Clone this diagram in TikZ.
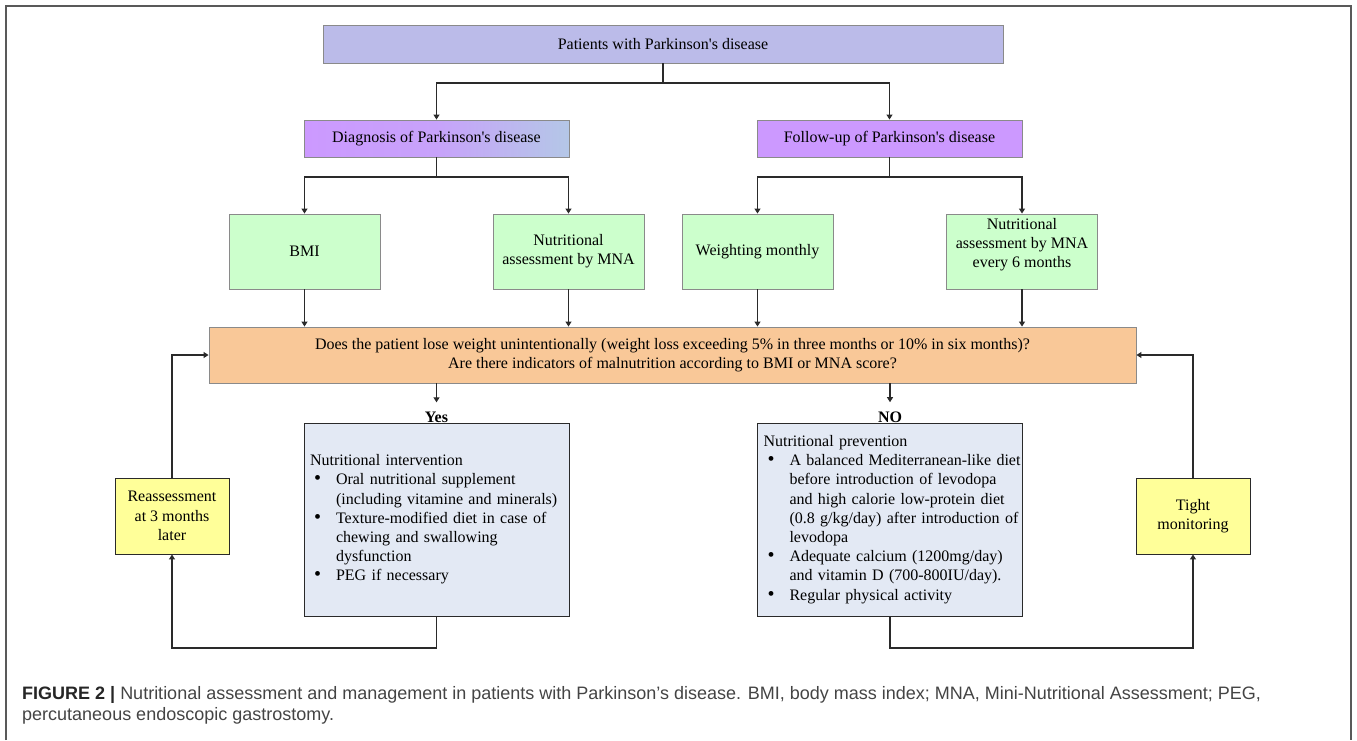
\documentclass[tikz,border=0pt]{standalone}
\usepackage{fontspec}
\setmainfont{Liberation Serif}
\newfontfamily\capfont{Liberation Sans}
\usetikzlibrary{arrows.meta}

\definecolor{toplav}{HTML}{BBBBE9}
\definecolor{diagvio}{HTML}{CC99FF}
\definecolor{diagblu}{HTML}{B4C7E7}
\definecolor{mint}{HTML}{CCFFCC}
\definecolor{peach}{HTML}{F9C898}
\definecolor{paleblue}{HTML}{E3E9F4}
\definecolor{paleyel}{HTML}{FFFF99}
\definecolor{edgegray}{HTML}{8A8A8A}
\definecolor{linedark}{HTML}{2A2A2A}
\definecolor{capgray}{HTML}{444444}

\newcommand{\pd}{Parkinson\textquotesingle s disease}
\newcommand{\bitem}[1]{\par\noindent\hangindent=26pt\hangafter=1\makebox[26pt][l]{\hspace{4pt}\scalebox{1.25}{\textbullet}}#1}

\begin{document}
\begin{tikzpicture}
[
    x=1pt, y=-1pt,
    every node/.style={font=\fontsize{16}{19.2}\selectfont, inner sep=0pt},
    softbox/.style={draw=edgegray, line width=0.9pt, align=center},
    hardbox/.style={draw=linedark, line width=0.9pt},
    listbox/.style={hardbox, fill=paleblue, minimum width=265, minimum height=193, text width=263},
    arr/.style={draw=linedark, line width=1.1pt, -{Triangle[length=5pt,width=6pt]}},
    link/.style={draw=linedark, line width=1.1pt},
]
\useasboundingbox (0,0) rectangle (1357,740);
% outer frame
\draw[draw=black!65, line width=1.4pt] (6,740) -- (6,6) -- (1351,6) -- (1351,740);

\node[softbox, fill=toplav, minimum width=680, minimum height=38] (patients) at (663,44)
{Patients with \pd};
\node[softbox, left color=diagvio, right color=diagblu, middle color=diagvio!80!diagblu,
    minimum width=265, minimum height=37] (diagnosis) at (436.5,138.5)
{Diagnosis of \pd};
\node[softbox, fill=diagvio, minimum width=265, minimum height=37] (followup) at (889.5,138.5)
{Follow-up of \pd};

\node[softbox, fill=mint, minimum width=151, minimum height=75] (bmi) at (304.5,251.5) {BMI};
\node[softbox, fill=mint, minimum width=151, minimum height=75] (mna) at (568.5,251.5)
{Nutritional\\assessment by MNA};
\node[softbox, fill=mint, minimum width=151, minimum height=75] (weighting) at (757.5,251.5)
{Weighting monthly};
\node[softbox, fill=mint, minimum width=151, minimum height=75] (mnasix) at (1022,251.5)
{Nutritional\\assessment by MNA\\every 6 months\\[-2pt]\mbox{}};

\node[softbox, fill=peach, minimum width=927, minimum height=56] (question) at (672.5,355)
{Does the patient lose weight unintentionally (weight loss exceeding 5\% in three months or 10\% in six months)?\\
Are there indicators of malnutrition according to BMI or MNA score?};

\node[font=\fontsize{16}{19.2}\selectfont\bfseries, anchor=base] (yes) at (436.5,422) {Yes};
\node[font=\fontsize{16}{19.2}\selectfont\bfseries, anchor=base] (no) at (890,422) {NO};

\node[listbox] (intervention) at (436.5,519.5)
{\leftskip=5pt\noindent Nutritional intervention
\bitem{Oral nutritional supplement\newline(including vitamine and minerals)}
\bitem{Texture-modified diet in case of\newline chewing and swallowing\newline dysfunction}
\bitem{PEG if necessary}\par};
\node[listbox] (prevention) at (890,519.5)
{\leftskip=5pt\noindent Nutritional prevention
\bitem{A balanced Mediterranean-like diet\newline before introduction of levodopa\newline and high calorie low-protein diet\newline (0.8 g/kg/day) after introduction of\newline levodopa}
\bitem{Adequate calcium (1200mg/day)\newline and vitamin D (700-800IU/day).}
\bitem{Regular physical activity}\par};

\node[hardbox, fill=paleyel, align=center, minimum width=114, minimum height=76] (reassess) at (172,516)
{Reassessment\\at 3 months\\later};
\node[hardbox, fill=paleyel, align=center, minimum width=114, minimum height=76] (tight) at (1193,516)
{Tight\\monitoring};

% forks
\coordinate (forktop) at (663,83);
\coordinate (forkdiag) at (436.5,177);
\coordinate (forkfollow) at (889.5,177);
\coordinate (loopbl) at (172,648);
\coordinate (looptl) at (172,355);
\coordinate (loopbr) at (1193,648);
\coordinate (looptr) at (1193,355);

\draw[link] (patients.south) -- (forktop);
\draw[arr] (forktop) -| (diagnosis.north);
\draw[arr] (forktop) -| (followup.north);
\draw[link] (diagnosis.south) -- (forkdiag);
\draw[arr] (forkdiag) -| (bmi.north);
\draw[arr] (forkdiag) -| (mna.north);
\draw[link] (followup.south) -- (forkfollow);
\draw[arr] (forkfollow) -| (weighting.north);
\draw[arr] (forkfollow) -| (mnasix.north);

\draw[arr] (bmi.south) -- (bmi.south |- question.north);
\draw[arr] (mna.south) -- (mna.south |- question.north);
\draw[arr] (weighting.south) -- (weighting.south |- question.north);
\draw[arr] (mnasix.south) -- (mnasix.south |- question.north);

\draw[arr] (question.south -| yes) -- ([yshift=9pt]yes.north);
\draw[arr] (question.south -| no) -- ([yshift=9pt]no.north);

\draw[arr] (intervention.south) |- (loopbl) -- (reassess.south);
\draw[arr] (reassess.north) -- (looptl) -- (question.west);
\draw[arr] (prevention.south) |- (loopbr) -- (tight.south);
\draw[arr] (tight.north) -- (looptr) -- (question.east);

% caption
\node[font=\capfont\fontsize{18}{21}\selectfont, text=capgray, anchor=base west] (caption) at (22,699)
{\textcolor{black!85}{\textbf{FIGURE 2 |}} Nutritional assessment and management in patients with Parkinson’s disease. BMI, body mass index; MNA, Mini-Nutritional Assessment; PEG,};
\node[font=\capfont\fontsize{18}{21}\selectfont, text=capgray, anchor=base west] (caption2) at (22,720)
{percutaneous endoscopic gastrostomy.};
\end{tikzpicture}
\end{document}
